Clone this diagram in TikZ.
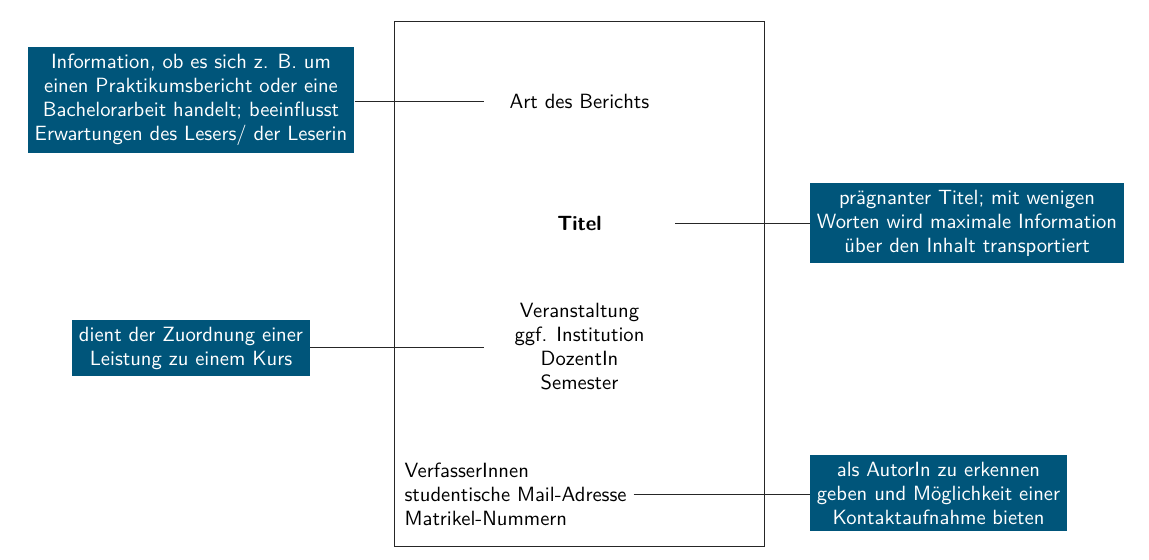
\documentclass[tikz,border=0pt]{standalone}
\renewcommand{\familydefault}{\sfdefault}
\newcommand{\myfont}{\sffamily\fontsize{10.3}{12}\selectfont}
\begin{document}
\begin{tikzpicture}[x=0.5pt,y=-0.5pt,
  note/.style={fill=notecol,text=white,align=center,inner sep=3.5pt,font=\myfont},
  field/.style={align=center,minimum width=95.5pt,inner sep=3.33pt,font=\myfont},
  conn/.style={draw=black!85,line width=0.45pt}]
\definecolor{notecol}{HTML}{00557A}
\useasboundingbox (0,0) rectangle (1149,559);
\draw[black!85,line width=0.45pt] (394,21) rectangle (764,546);
\node[field] (art) at (579.5,101) {Art des Berichts};
\node[field] (titel) at (579.5,223) {\bfseries Titel};
\node[field] (veran) at (579.5,347) {Veranstaltung\\ggf. Institution\\DozentIn\\Semester};
\node[align=left,anchor=west,inner sep=3.33pt,font=\myfont] (verf) at (397.5,494) {VerfasserInnen\\studentische Mail-Adresse\\Matrikel-Nummern};
\node[note] (n1) at (191,100) {Information, ob es sich z. B. um\\einen Praktikumsbericht oder eine\\Bachelorarbeit handelt; beeinflusst\\Erwartungen des Lesers/ der Leserin};
\node[note] (n2) at (191,348) {dient der Zuordnung einer\\Leistung zu einem Kurs};
\node[note] (n3) at (967,223) {prägnanter Titel; mit wenigen\\Worten wird maximale Information\\über den Inhalt transportiert};
\node[note] (n4) at (938.5,493) {als AutorIn zu erkennen\\geben und Möglichkeit einer\\Kontaktaufnahme bieten};
\draw[conn] (n1.east |- art.west) -- (art.west);
\draw[conn] (n2.east |- veran.west) -- (veran.west);
\draw[conn] (titel.east) -- (n3.west |- titel.east);
\draw[conn] (verf.east) -- (n4.west |- verf.east);
\end{tikzpicture}
\end{document}
